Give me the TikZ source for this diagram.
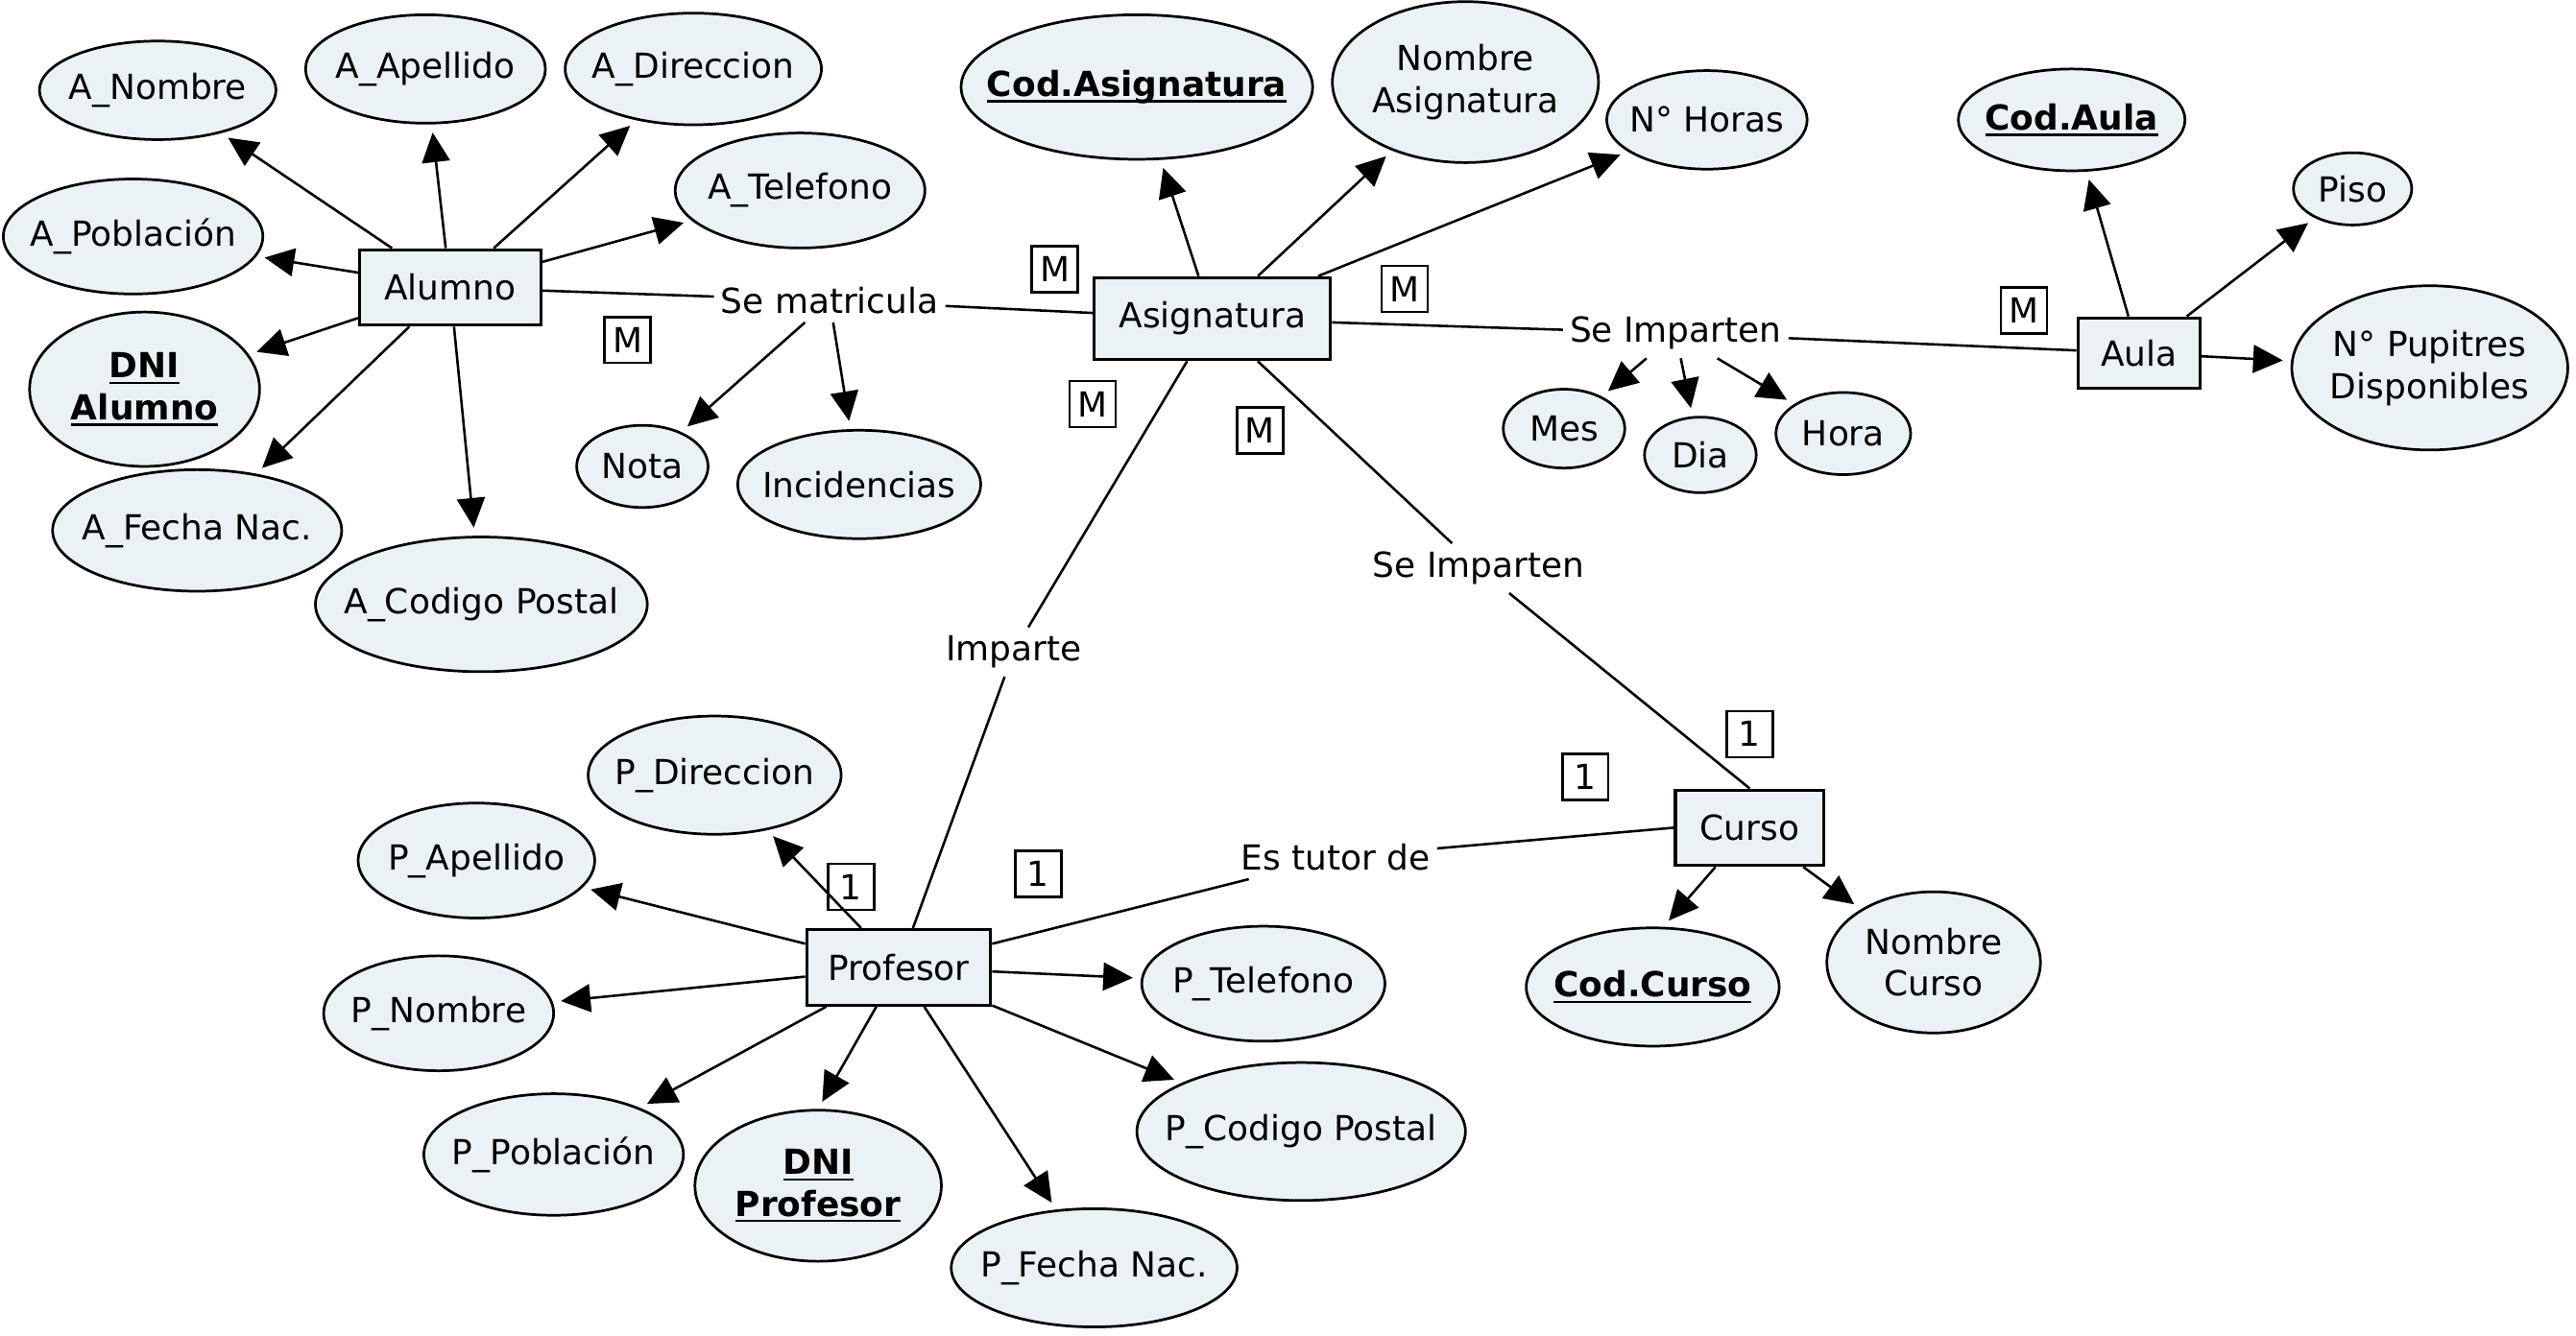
\documentclass[tikz,border=0pt]{standalone}
\usepackage{fontspec}
\setmainfont{DejaVu Sans}
\usetikzlibrary{shapes.geometric,arrows.meta}
\definecolor{attrfill}{RGB}{234,242,245}
% bold key attribute with an underline at a fixed depth below the baseline
\newcommand{\keyattr}[1]{\textbf{\setbox0\hbox{#1}\rlap{\rule[-3.6pt]{\wd0}{1.3pt}}\box0}}
% zero-width centred line, so the ellipse size comes from its minimum size only
\newcommand{\ct}[1]{\makebox[0pt]{#1}}
\begin{document}
\begin{tikzpicture}[x=1pt,y=-1pt,
  font=\fontsize{21}{25.5}\selectfont,
  attr/.style={ellipse,draw,line width=1.6pt,fill=attrfill,inner sep=0pt,align=center},
  sz/.style 2 args={minimum width=#1pt,minimum height=#2pt},
  entity/.style={rectangle,draw,line width=1.8pt,fill=attrfill,inner xsep=15pt,minimum height=46pt},
  rel/.style={inner xsep=4pt,inner ysep=5pt},
  card/.style={rectangle,draw,line width=1.5pt,fill=white,minimum width=28pt,minimum height=28pt,inner sep=0pt},
  conn/.style={line width=1.5pt},
  arr/.style={conn,-{Triangle[length=18pt,width=17pt]},shorten >=5pt}]
\useasboundingbox (0,0) rectangle (1568,813);

% entities
\node[entity] (alumno) at (274,175) {Alumno};
\node[entity,minimum height=50pt] (asig) at (738,194) {Asignatura};
\node[entity,minimum height=43pt,inner xsep=14pt] (aula) at (1302,215) {Aula};
\node[entity] (curso) at (1065,504) {Curso};
\node[entity,inner xsep=13pt] (prof) at (547,589) {Profesor};

% relationships
\node[rel] (sematr) at (505,183) {Se matricula};
\node[rel] (seimp1) at (1020,203) {Se Imparten};
\node[rel] (imparte) at (617,397) {Imparte};
\node[rel] (seimp2) at (900,346) {Se Imparten};
\node[rel] (tutor) at (813,522) {Es tutor de};

% Alumno attributes
\node[attr,sz={144}{60}] (anom) at (96,55) {\ct{A\_Nombre}};
\node[attr,sz={146}{66}] (aape) at (259,42) {\ct{A\_Apellido}};
\node[attr,sz={156}{68}] (adir) at (422,42) {\ct{A\_Direccion}};
\node[attr,sz={152}{70}] (atel) at (487,116) {\ct{A\_Telefono}};
\node[attr,sz={158}{70}] (apob) at (81,144) {\ct{A\_Población}};
\node[attr,sz={140}{94}] (adni) at (88,237) {\ct{\keyattr{DNI}}\\\ct{\keyattr{Alumno}}};
\node[attr,sz={176}{74}] (afec) at (120,323) {\ct{A\_Fecha Nac.}};
\node[attr,sz={202}{82}] (acod) at (293,368) {\ct{A\_Codigo Postal}};
\node[attr,sz={80}{50}] (nota) at (391,284) {\ct{Nota}};
\node[attr,sz={148}{66}] (inci) at (523,295) {\ct{Incidencias}};

% Asignatura attributes
\node[attr,sz={214}{88}] (codasig) at (692,53) {\ct{\keyattr{Cod.Asignatura}}};
\node[attr,sz={162}{98}] (nomasig) at (892,50) {\ct{Nombre}\\\ct{Asignatura}};
\node[attr,sz={122}{60}] (nhoras) at (1039,73) {\ct{N° Horas}};
\node[attr,sz={74}{48}] (mes) at (952,261) {\ct{Mes}};
\node[attr,sz={68}{46}] (dia) at (1035,277) {\ct{Dia}};
\node[attr,sz={82}{50}] (hora) at (1122,264) {\ct{Hora}};

% Aula attributes
\node[attr,sz={138}{62}] (codaula) at (1261,73) {\ct{\keyattr{Cod.Aula}}};
\node[attr,sz={72}{44}] (piso) at (1432,115) {\ct{Piso}};
\node[attr,sz={168}{100}] (npup) at (1479,224) {\ct{N° Pupitres}\\\ct{Disponibles}};

% Curso attributes
\node[attr,sz={154}{72}] (codcurso) at (1006,601) {\ct{\keyattr{Cod.Curso}}};
\node[attr,sz={130}{86}] (nomcurso) at (1177,586) {\ct{Nombre}\\\ct{Curso}};

% Profesor attributes
\node[attr,sz={154}{72}] (pdir) at (435,472) {\ct{P\_Direccion}};
\node[attr,sz={144}{70}] (pape) at (290,524) {\ct{P\_Apellido}};
\node[attr,sz={140}{70}] (pnom) at (267,617) {\ct{P\_Nombre}};
\node[attr,sz={158}{74}] (ppob) at (337,703) {\ct{P\_Población}};
\node[attr,sz={150}{92}] (pdni) at (498,722) {\ct{\keyattr{DNI}}\\\ct{\keyattr{Profesor}}};
\node[attr,sz={174}{72}] (pfec) at (666,772) {\ct{P\_Fecha Nac.}};
\node[attr,sz={200}{84}] (pcod) at (792,689) {\ct{P\_Codigo Postal}};
\node[attr,sz={148}{70}] (ptel) at (769,599) {\ct{P\_Telefono}};

% cardinalities
\node[card] (c1) at (382,207) {M};
\node[card] (c2) at (642,164) {M};
\node[card] (c3) at (855,176) {M};
\node[card] (c4) at (1232,189) {M};
\node[card] (c5) at (665,246) {M};
\node[card] (c6) at (767,262) {M};
\node[card] (c7) at (1065,447) {1};
\node[card] (c8) at (965,473) {1};
\node[card] (c9) at (632,532) {1};
\node[card] (c10) at (518,540) {1};

% relationship lines
\draw[conn] (alumno) -- (sematr);
\draw[conn] (sematr) -- (asig);
\draw[conn] (asig) -- (seimp1);
\draw[conn] (seimp1) -- (aula);
\draw[conn] (asig) -- (imparte);
\draw[conn] (imparte) -- (prof);
\draw[conn] (asig) -- (seimp2);
\draw[conn] (seimp2) -- (curso.north);
\draw[conn] (curso.west) -- (tutor);
\draw[conn] (tutor) -- (prof);

% attribute arrows
\foreach \t in {anom,aape,adir,atel,apob,adni,afec,acod}
  \draw[arr] (alumno) -- (\t);
\foreach \t in {nota,inci}
  \draw[arr] (sematr) -- (\t);
\foreach \t in {codasig,nomasig,nhoras}
  \draw[arr] (asig) -- (\t);
\foreach \t in {mes,dia,hora}
  \draw[arr] (seimp1) -- (\t);
\foreach \t in {codaula,piso,npup}
  \draw[arr] (aula) -- (\t);
\draw[arr] (curso) -- (codcurso.80);
\draw[arr] (curso) -- (nomcurso);
\foreach \t in {pdir,pape,pnom,ppob,pfec,pcod,ptel}
  \draw[arr] (prof) -- (\t);
\draw[arr] (prof) -- (pdni.north);
\end{tikzpicture}
\end{document}
